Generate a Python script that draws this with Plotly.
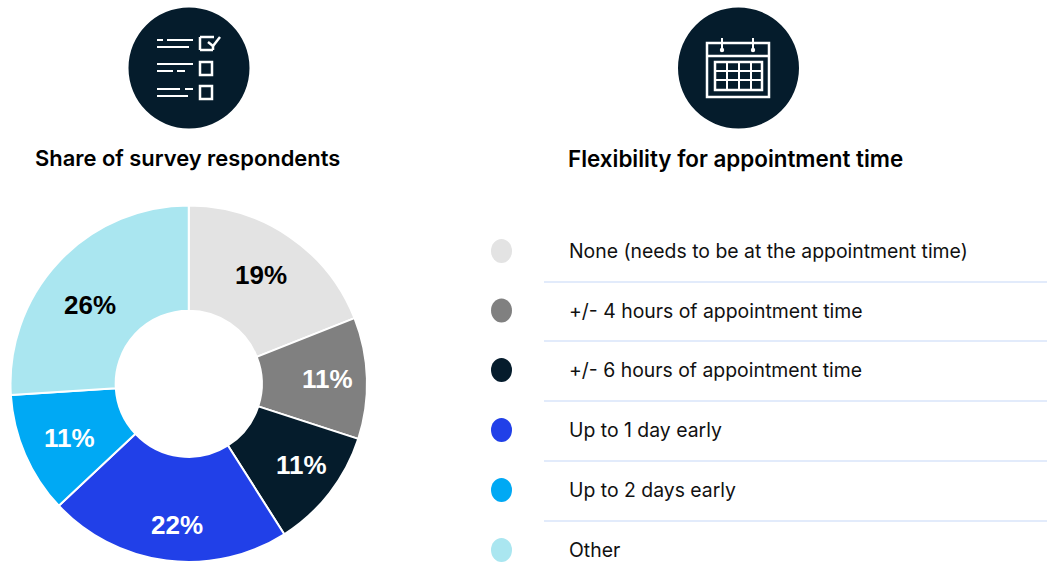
import plotly.graph_objects as go

W, H = 1048, 566
categories = ["None (needs to be at the appointment time)", "+/- 4 hours of appointment time",
              "+/- 6 hours of appointment time", "Up to 1 day early", "Up to 2 days early", "Other"]
values = [19, 11, 11, 22, 11, 26]
colors = ["#E3E3E3", "#808080", "#051C2C", "#2140E8", "#00A9F4", "#AAE6F0"]
label_colors = ["#000000", "#FFFFFF", "#FFFFFF", "#FFFFFF", "#FFFFFF", "#000000"]
titles = ["Share of survey respondents", "Flexibility for appointment time"]

FONT = "Inter, 'Liberation Sans', Arial, sans-serif"
NAVY = "#051C2C"
px = lambda x: x / W
py = lambda y: 1 - y / H

shapes, annotations = [], []

def line(x0, y0, x1, y1, color="white", width=2):
    shapes.append(dict(type="line", xref="paper", yref="paper", x0=px(x0), x1=px(x1), y0=py(y0), y1=py(y1),
                       line=dict(color=color, width=width)))

def rect(x0, y0, x1, y1, color="white", width=2.5):
    shapes.append(dict(type="rect", xref="paper", yref="paper", x0=px(x0), x1=px(x1), y0=py(y0), y1=py(y1),
                       line=dict(color=color, width=width)))

def oval(cx, cy, rx, ry, fill):
    shapes.append(dict(type="circle", xref="paper", yref="paper", x0=px(cx - rx), x1=px(cx + rx),
                       y0=py(cy + ry), y1=py(cy - ry), fillcolor=fill, line=dict(width=0)))

# Checklist icon
oval(189, 68, 60.5, 60.5, NAVY)
for x0, y0, x1, y1 in [(157, 40, 163, 40), (167, 40, 193, 40), (157, 47, 189, 47),
                       (157, 64, 193, 64), (157, 71, 173, 71), (177, 71, 185, 71),
                       (157, 89, 180, 89), (185, 89, 193, 89), (157, 96, 188, 96)]:
    line(x0, y0, x1, y1)
for x0, y0, x1, y1 in [(214, 37, 200, 37), (200, 37, 200, 50), (200, 50, 213, 50), (213, 50, 213, 45),
                       (208, 42, 213, 46), (213, 46, 220, 37)]:
    line(x0, y0, x1, y1, width=2.5)
rect(200, 62, 212, 75)
rect(200, 86, 212, 99)

# Calendar icon
oval(738.5, 68, 60.5, 60.5, NAVY)
rect(707, 43, 769, 97)
line(707, 56, 769, 56, width=2.5)
for x in (722, 753):
    line(x, 38, x, 50)
    oval(x, 50, 2.2, 2.2, "white")
rect(715, 62, 762, 90)
for y in (71, 80):
    line(715, y, 762, y)
for x in (727, 739, 751):
    line(x, 62, x, 90)

# Titles
for x, t, s in zip((187.5, 735.5), titles, (21.9, 22.4)):
    annotations.append(dict(xref="paper", yref="paper", x=px(x), y=py(158), text=t, showarrow=False,
                            xanchor="center", yanchor="middle",
                            font=dict(family=FONT, size=s, color="#000000", weight=600)))

# Legend rows
row_y = [251, 310.5, 370, 430, 490, 550]
for c, col, y in zip(categories, colors, row_y):
    oval(501.5, y, 10.5, 12, col)
    annotations.append(dict(xref="paper", yref="paper", x=px(567), y=py(y), text=c, showarrow=False,
                            xanchor="left", yanchor="middle", font=dict(family=FONT, size=19.4, color="#111111")))
for y in (282, 341, 401, 461, 521):
    line(544, y, 1047, y, color="#D8E5FA", width=1.5)

# Percentage labels placed on the ring
label_xy = [(261, 275), (327, 379), (301, 465), (177, 525), (69, 438), (90, 305)]
for v, col, (x, y) in zip(values, label_colors, label_xy):
    annotations.append(dict(xref="paper", yref="paper", x=px(x), y=py(y), text=f"{v}%", showarrow=False,
                            xanchor="center", yanchor="middle",
                            font=dict(family="'Liberation Sans', Arial, sans-serif", size=26, color=col, weight=700)))

fig = go.Figure(go.Pie(
    values=values, labels=categories, sort=False, direction="clockwise", rotation=0, hole=0.41,
    marker=dict(colors=colors, line=dict(color="white", width=2)),
    textinfo="none",
    domain=dict(x=[px(10.5), px(367)], y=[py(562), py(205.5)]),
    showlegend=False, hoverinfo="label+percent",
))
fig.update_layout(width=W, height=H, margin=dict(l=0, r=0, t=0, b=0), paper_bgcolor="white",
                  shapes=shapes, annotations=annotations)
fig.write_html("out.html", config=dict(displayModeBar=False),
               post_script="document.body.style.margin='0';document.body.style.overflow='hidden';")
